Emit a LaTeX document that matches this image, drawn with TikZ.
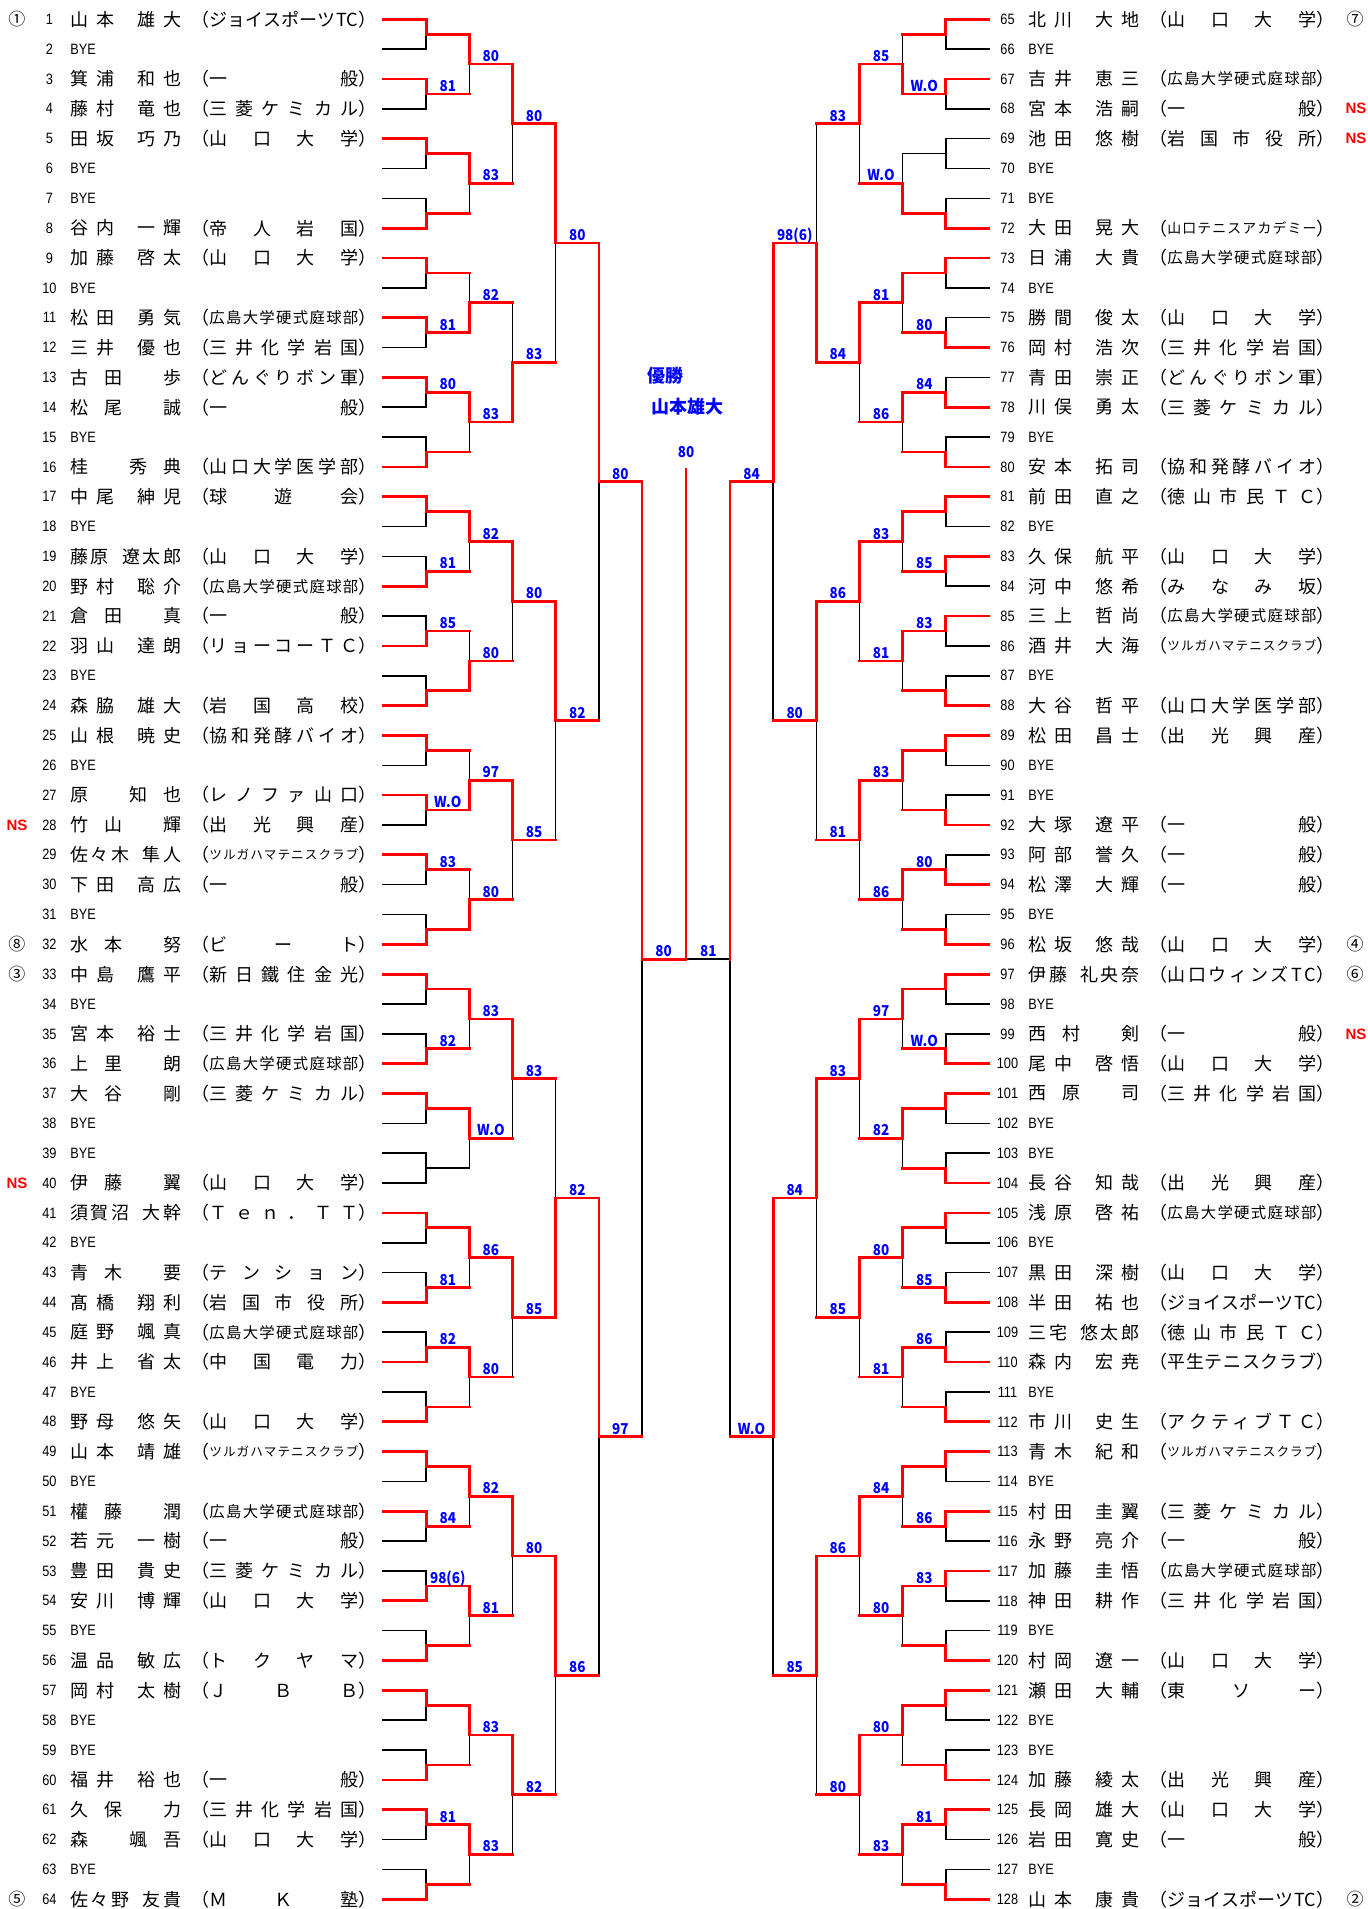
\documentclass[tikz,border=0pt]{standalone}
\usepackage{fontspec}
\usepackage{graphicx}
\setmainfont{Liberation Sans}
\newfontfamily\jp{Noto Sans CJK JP}
\newfontfamily\numf{Liberation Sans}[FakeStretch=0.85]
\newfontfamily\labf{Noto Sans CJK JP}[FakeStretch=0.9]
\newdimen\pxu \pxu=0.5pt
\newdimen\tmpd
% distributed text
\def\SpEnd{}
\def\SpChar#1{\ifx#1*\kern8\pxu\else#1\fi}
\def\SpFirst#1{\ifx#1\SpEnd\else\SpChar#1\expandafter\SpRest\fi}
\def\SpRest#1{\ifx#1\SpEnd\else\hfill\SpChar#1\expandafter\SpRest\fi}
\newcommand\Name[1]{\hbox to 111\pxu{\jp\fontsize{9}{10}\selectfont\SpFirst#1\SpEnd}}
\newcommand\AffIn[1]{%
 \setbox0\hbox{\SpFirst#1\SpEnd}%
 \ifdim\wd0>74.5pt
   \tmpd=\wd0
   \pgfmathsetmacro\affs{0.93*74.5/\tmpd}%
   \pgfmathsetlengthmacro\affw{74.5pt/\affs}%
   \pgfmathsetlengthmacro\affr{(1-\affs)*3.4pt}%
   \raisebox{\affr}{\scalebox{\affs}{\hbox to \affw{\SpFirst#1\SpEnd}}}%
 \else
   \hbox to 74.5pt{\SpFirst#1\SpEnd}%
 \fi}
\newcommand\Aff[1]{\hbox{\jp\fontsize{9}{10}\selectfont （\AffIn{#1}）}}
% winners: 1 top, 2 bottom, 0 none
\expandafter\def\csname WL1\endcsname{{1,1,1,2,1,1,1,2,1,2,2,2,1,1,1,2,1,2,1,0,1,2,2,2,1,1,2,2,1,2,1,2}}
\expandafter\def\csname WL2\endcsname{{1,1,2,1,1,2,2,2,1,1,1,1,1,1,1,1}}
\expandafter\def\csname WL3\endcsname{{1,2,1,1,1,1,1,1}}
\expandafter\def\csname WL4\endcsname{{1,1,2,1}}
\expandafter\def\csname WL5\endcsname{{1,1}}
\expandafter\def\csname WL6\endcsname{{1}}
\expandafter\def\csname WR1\endcsname{{1,1,0,2,1,2,2,2,1,1,1,2,1,2,2,2,1,2,1,2,1,2,2,2,1,1,1,2,1,2,1,2}}
\expandafter\def\csname WR2\endcsname{{2,2,1,1,1,1,1,1,1,1,1,1,1,1,1,1}}
\expandafter\def\csname WR3\endcsname{{1,1,1,1,1,1,1,1}}
\expandafter\def\csname WR4\endcsname{{2,1,1,1}}
\expandafter\def\csname WR5\endcsname{{1,1}}
\expandafter\def\csname WR6\endcsname{{1}}
\newcommand\mcompute{%
 \pgfmathsetmacro\half{2^(\r-1)}%
 \pgfmathsetmacro\st{(\m-1)*2^\r}%
 \pgfmathsetmacro\yt{19.3+29.84*(\st+(\half-1)/2)}%
 \pgfmathsetmacro\yb{\yt+29.84*\half}%
 \pgfmathsetmacro\yo{(\yt+\yb)/2}%
 \pgfmathsetmacro\xa{\base+(\dir)*43.17*(\r-1)}%
 \pgfmathsetmacro\xb{\base+(\dir)*43.17*\r}%
 \ifnum\r=6 \def\xc{686}\else\pgfmathsetmacro\xc{\base+(\dir)*43.17*(\r+1)}\fi}
\newcommand\rowat[1]{\pgfmathsetmacro\rowy{19.3+29.84*mod(#1-1,64)}\ifnum#1>64 \def\dx{958}\else\def\dx{0}\fi}
\newcommand\player[3]{\rowat{#1}%
  \node[numst] (n#1) at (\dx+49.5,\rowy) {#1};
  \node[nmst] (m#1) at (\dx+70,\rowy) {\Name{#2}};
  \node[nmst] (a#1) at (\dx+191,\rowy) {\Aff{#3}};}
\newcommand\byerow[1]{\rowat{#1}%
  \node[numst] (n#1) at (\dx+49.5,\rowy) {#1};
  \node[numst,anchor=west] (m#1) at (\dx+70,\rowy) {BYE};}
\newcommand\scorelab[4]{%
 \pgfmathsetmacro\yo{19.3+29.84*((#3-1)*2^#2+(2^#2-1)/2)}%
 \if#1L\pgfmathsetmacro\xm{383+43.17*(#2+0.5)}\else\pgfmathsetmacro\xm{989-43.17*(#2+0.5)}\fi
 \node[lbl] (s#1#2m#3) at (\xm,\yo-2.5) {#4};}
\newcommand\seedat[3]{\rowat{#1}\node[seedst] (sd#1) at (#2,\rowy) {#3};}
\newcommand\nsat[2]{\rowat{#1}\node[nsst] (ns#1) at (#2,\rowy) {NS};}

\begin{document}
\begin{tikzpicture}[x=0.5pt,y=-0.5pt,
  blk/.style={draw=black,line width=0.8pt,line cap=rect},
  rd/.style={draw=red,line width=1.35pt,line cap=rect},
  numst/.style={inner sep=0,font=\numf\fontsize{7.5}{8}\selectfont},
  nmst/.style={inner sep=0,anchor=west},
  lbl/.style={anchor=base,inner sep=0,text=blue,font=\labf\bfseries\fontsize{7.5}{8}\selectfont},
  seedst/.style={inner sep=0,font=\jp\fontsize{8.5}{9}\selectfont},
  nsst/.style={inner sep=0,text=red,font=\bfseries\fontsize{7.5}{8}\selectfont},
  ttl/.style={inner sep=0,text=blue,font=\jp\bfseries\fontsize{9}{10}\selectfont}]
\useasboundingbox (0,0) rectangle (1367,1909);
\fill[white] (0,0) rectangle (1367,1909);
% black bracket
\foreach \side/\dir/\base in {L/1/383,R/-1/989}{
 \foreach \r in {1,...,6}{
  \pgfmathtruncatemacro\nmatch{2^(6-\r)}
  \foreach \m in {1,...,\nmatch}{
   \mcompute
   \ifnum\r=1 \draw[blk] (\xa,\yt)--(\xb,\yt) (\xa,\yb)--(\xb,\yb);\fi
   \draw[blk] (\xb,\yt)--(\xb,\yb) (\xb,\yo)--(\xc,\yo);
  }}}
% red paths
\foreach \side/\dir/\base in {L/1/383,R/-1/989}{
 \foreach \r in {1,...,6}{
  \pgfmathtruncatemacro\nmatch{2^(6-\r)}
  \foreach \m in {1,...,\nmatch}{
   \mcompute
   \edef\arr{\csname W\side\r\endcsname}%
   \pgfmathtruncatemacro\w{\arr[\m-1]}%
   \def\ored{1}\ifnum\r=6 \ifnum\dir<0 \def\ored{0}\fi\fi
   \ifnum\w=1
     \ifnum\r=1 \draw[rd] (\xa,\yt)--(\xb,\yt)--(\xb,\yo);\else\draw[rd] (\xb,\yt)--(\xb,\yo);\fi
   \fi
   \ifnum\w=2
     \ifnum\r=1 \draw[rd] (\xa,\yb)--(\xb,\yb)--(\xb,\yo);\else\draw[rd] (\xb,\yb)--(\xb,\yo);\fi
   \fi
   \ifnum\w>0 \ifnum\ored=1 \draw[rd] (\xb,\yo)--(\xc,\yo);\fi\fi
  }}}
\coordinate (fin) at (686,959.3);
\coordinate (top) at (686,469);
\draw[rd] (fin)--(top);
\node[ttl] (yusho) at (665,376) {優勝};
\node[ttl] (champ) at (687,407) {山本雄大};
\node[lbl,anchor=center] (finalscore) at (686,452) {80};
% players left
\player{1}{山本*雄大}{ジョイスポーツTC}
\byerow{2}
\player{3}{箕浦*和也}{一般}
\player{4}{藤村*竜也}{三菱ケミカル}
\player{5}{田坂*巧乃}{山口大学}
\byerow{6}
\byerow{7}
\player{8}{谷内*一輝}{帝人岩国}
\player{9}{加藤*啓太}{山口大学}
\byerow{10}
\player{11}{松田*勇気}{広島大学硬式庭球部}
\player{12}{三井*優也}{三井化学岩国}
\player{13}{古田*歩}{どんぐりボン軍}
\player{14}{松尾*誠}{一般}
\byerow{15}
\player{16}{桂*秀典}{山口大学医学部}
\player{17}{中尾*紳児}{球遊会}
\byerow{18}
\player{19}{藤原*遼太郎}{山口大学}
\player{20}{野村*聡介}{広島大学硬式庭球部}
\player{21}{倉田*真}{一般}
\player{22}{羽山*達朗}{リョーコーＴＣ}
\byerow{23}
\player{24}{森脇*雄大}{岩国高校}
\player{25}{山根*暁史}{協和発酵バイオ}
\byerow{26}
\player{27}{原*知也}{レノファ山口}
\player{28}{竹山*輝}{出光興産}
\player{29}{佐々木*隼人}{ツルガハマテニスクラブ}
\player{30}{下田*高広}{一般}
\byerow{31}
\player{32}{水本*努}{ビート}
\player{33}{中島*鷹平}{新日鐵住金光}
\byerow{34}
\player{35}{宮本*裕士}{三井化学岩国}
\player{36}{上里*朗}{広島大学硬式庭球部}
\player{37}{大谷*剛}{三菱ケミカル}
\byerow{38}
\byerow{39}
\player{40}{伊藤*翼}{山口大学}
\player{41}{須賀沼*大幹}{Ｔｅｎ．ＴＴ}
\byerow{42}
\player{43}{青木*要}{テンション}
\player{44}{髙橋*翔利}{岩国市役所}
\player{45}{庭野*颯真}{広島大学硬式庭球部}
\player{46}{井上*省太}{中国電力}
\byerow{47}
\player{48}{野母*悠矢}{山口大学}
\player{49}{山本*靖雄}{ツルガハマテニスクラブ}
\byerow{50}
\player{51}{權藤*潤}{広島大学硬式庭球部}
\player{52}{若元*一樹}{一般}
\player{53}{豊田*貴史}{三菱ケミカル}
\player{54}{安川*博輝}{山口大学}
\byerow{55}
\player{56}{温品*敏広}{トクヤマ}
\player{57}{岡村*太樹}{ＪＢＢ}
\byerow{58}
\byerow{59}
\player{60}{福井*裕也}{一般}
\player{61}{久保*力}{三井化学岩国}
\player{62}{森*颯吾}{山口大学}
\byerow{63}
\player{64}{佐々野*友貴}{ＭＫ塾}
% players right
\player{65}{北川*大地}{山口大学}
\byerow{66}
\player{67}{吉井*恵三}{広島大学硬式庭球部}
\player{68}{宮本*浩嗣}{一般}
\player{69}{池田*悠樹}{岩国市役所}
\byerow{70}
\byerow{71}
\player{72}{大田*晃大}{山口テニスアカデミー}
\player{73}{日浦*大貴}{広島大学硬式庭球部}
\byerow{74}
\player{75}{勝間*俊太}{山口大学}
\player{76}{岡村*浩次}{三井化学岩国}
\player{77}{青田*崇正}{どんぐりボン軍}
\player{78}{川俣*勇太}{三菱ケミカル}
\byerow{79}
\player{80}{安本*拓司}{協和発酵バイオ}
\player{81}{前田*直之}{徳山市民ＴＣ}
\byerow{82}
\player{83}{久保*航平}{山口大学}
\player{84}{河中*悠希}{みなみ坂}
\player{85}{三上*哲尚}{広島大学硬式庭球部}
\player{86}{酒井*大海}{ツルガハマテニスクラブ}
\byerow{87}
\player{88}{大谷*哲平}{山口大学医学部}
\player{89}{松田*昌士}{出光興産}
\byerow{90}
\byerow{91}
\player{92}{大塚*遼平}{一般}
\player{93}{阿部*誉久}{一般}
\player{94}{松澤*大輝}{一般}
\byerow{95}
\player{96}{松坂*悠哉}{山口大学}
\player{97}{伊藤*礼央奈}{山口ウィンズTC}
\byerow{98}
\player{99}{西村*剣}{一般}
\player{100}{尾中*啓悟}{山口大学}
\player{101}{西原*司}{三井化学岩国}
\byerow{102}
\byerow{103}
\player{104}{長谷*知哉}{出光興産}
\player{105}{浅原*啓祐}{広島大学硬式庭球部}
\byerow{106}
\player{107}{黒田*深樹}{山口大学}
\player{108}{半田*祐也}{ジョイスポーツTC}
\player{109}{三宅*悠太郎}{徳山市民ＴＣ}
\player{110}{森内*宏尭}{平生テニスクラブ}
\byerow{111}
\player{112}{市川*史生}{アクティブＴＣ}
\player{113}{青木*紀和}{ツルガハマテニスクラブ}
\byerow{114}
\player{115}{村田*圭翼}{三菱ケミカル}
\player{116}{永野*亮介}{一般}
\player{117}{加藤*圭悟}{広島大学硬式庭球部}
\player{118}{神田*耕作}{三井化学岩国}
\byerow{119}
\player{120}{村岡*遼一}{山口大学}
\player{121}{瀬田*大輔}{東ソー}
\byerow{122}
\byerow{123}
\player{124}{加藤*綾太}{出光興産}
\player{125}{長岡*雄大}{山口大学}
\player{126}{岩田*寛史}{一般}
\byerow{127}
\player{128}{山本*康貴}{ジョイスポーツTC}
% seeds and NS
\seedat{1}{17}{①}
\seedat{32}{17}{⑧}
\seedat{33}{17}{③}
\seedat{64}{17}{⑤}
\seedat{65}{1355}{⑦}
\seedat{96}{1355}{④}
\seedat{97}{1355}{⑥}
\seedat{128}{1355}{②}
\nsat{28}{17}
\nsat{40}{17}
\nsat{68}{1356}
\nsat{69}{1356}
\nsat{99}{1356}
% scores
\foreach \s/\rr/\mm/\t in {L/1/2/81,L/1/6/81,L/1/7/80,L/1/10/81,L/1/11/85,L/1/14/W.O,L/1/15/83,L/1/18/82,L/1/22/81,L/1/23/82,L/1/26/84,L/1/27/98(6),L/1/31/81,
 L/2/1/80,L/2/2/83,L/2/3/82,L/2/4/83,L/2/5/82,L/2/6/80,L/2/7/97,L/2/8/80,L/2/9/83,L/2/10/W.O,L/2/11/86,L/2/12/80,L/2/13/82,L/2/14/81,L/2/15/83,L/2/16/83,
 L/3/1/80,L/3/2/83,L/3/3/80,L/3/4/85,L/3/5/83,L/3/6/85,L/3/7/80,L/3/8/82,
 L/4/1/80,L/4/2/82,L/4/3/82,L/4/4/86,L/5/1/80,L/5/2/97,L/6/1/80,
 R/1/2/W.O,R/1/6/80,R/1/7/84,R/1/10/85,R/1/11/83,R/1/15/80,R/1/18/W.O,R/1/22/85,R/1/23/86,R/1/26/86,R/1/27/83,R/1/31/81,
 R/2/1/85,R/2/2/W.O,R/2/3/81,R/2/4/86,R/2/5/83,R/2/6/81,R/2/7/83,R/2/8/86,R/2/9/97,R/2/10/82,R/2/11/80,R/2/12/81,R/2/13/84,R/2/14/80,R/2/15/80,R/2/16/83,
 R/3/1/83,R/3/2/84,R/3/3/86,R/3/4/81,R/3/5/83,R/3/6/85,R/3/7/86,R/3/8/80,
 R/4/1/98(6),R/4/2/80,R/4/3/84,R/4/4/85,R/5/1/84,R/5/2/W.O,R/6/1/81}{\scorelab{\s}{\rr}{\mm}{\t}}
\end{tikzpicture}
\end{document}
